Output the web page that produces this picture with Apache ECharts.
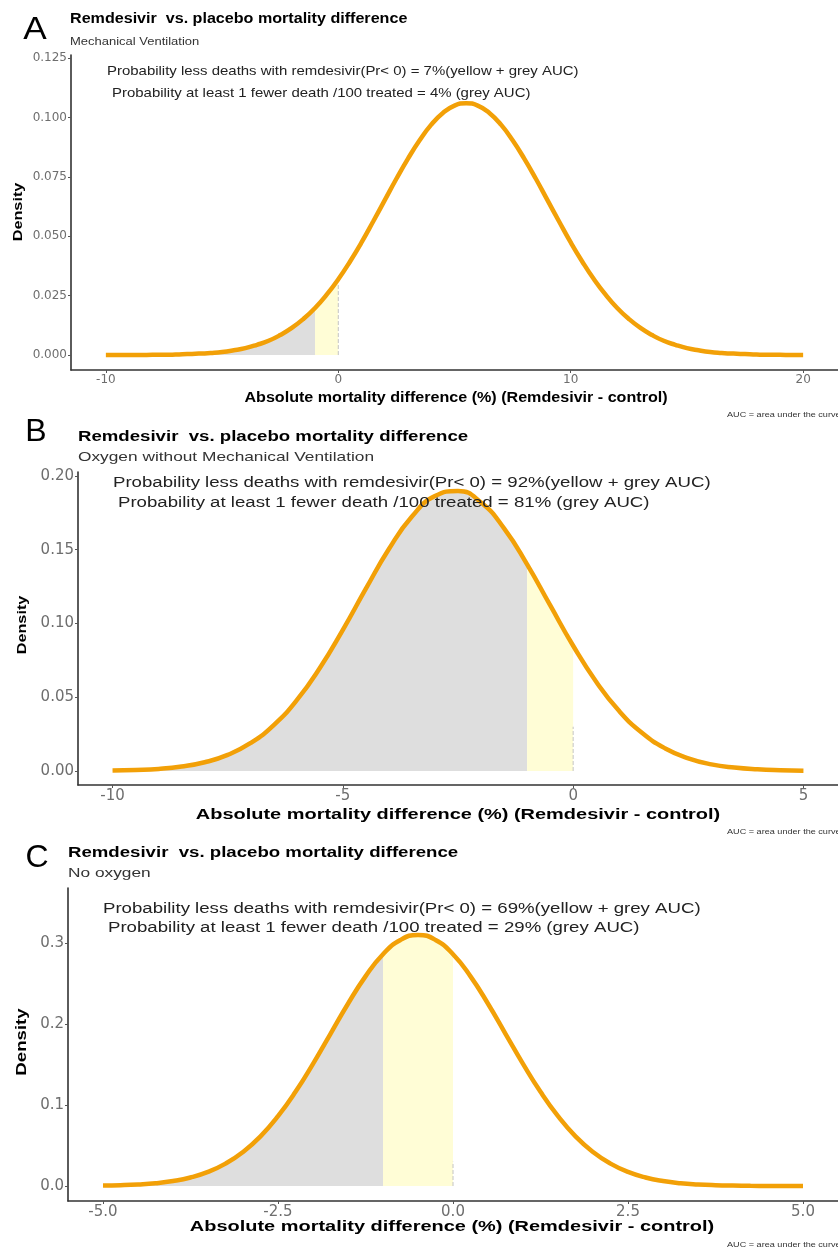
<!DOCTYPE html>
<html>
<head>
<meta charset="UTF-8">
<title>Remdesivir vs. placebo mortality difference</title>
<script src="https://cdn.jsdelivr.net/npm/echarts@6/dist/echarts.min.js"></script>
<style>
body { margin: 0; padding: 0; background: #fff; }
#main { width: 838px; height: 1252px; }
</style>
</head>
<body>
<div id="main"></div>
<script>
// A - mechanical ventilation
var xA = [-10,-9.5,-9,-8.5,-8,-7.5,-7,-6.5,-6,-5.5,-5,-4.5,-4,-3.5,-3,-2.5,-2,-1.5,-1,-0.5,
	0,0.5,1,1.5,2,2.5,3,3.5,4,4.5,5,5.5,6,6.5,7,7.5,8,8.5,9,9.5,
	10,10.5,11,11.5,12,12.5,13,13.5,14,14.5,15,15.5,16,16.5,17,17.5,18,18.5,19,19.5,20];
var densA = [0.0000,0.0000,0.0000,0.0000,0.0001,0.0001,0.0002,0.0004,0.0006,0.0009,0.0013,0.0020,0.0029,0.0043,0.0060,0.0084,0.0114,0.0152,0.0198,0.0254,
	0.0319,0.0393,0.0474,0.0562,0.0652,0.0742,0.0827,0.0904,0.0970,0.1019,0.1050,0.1060,0.1050,0.1019,0.0970,0.0904,0.0827,0.0742,0.0652,0.0562,
	0.0474,0.0393,0.0319,0.0254,0.0198,0.0152,0.0114,0.0084,0.0060,0.0043,0.0029,0.0020,0.0013,0.0009,0.0006,0.0004,0.0002,0.0001,0.0001,0.0000,0.0000];
var xTicksA = [-10, 0, 10, 20];
var yTicksA = [0, 0.025, 0.05, 0.075, 0.1, 0.125];

// B - oxygen without mechanical ventilation
var xB = [-10,-9.5,-9,-8.5,-8,-7.5,-7,-6.5,-6,-5.5,-5,-4.5,-4,-3.5,-3,-2.5,-2,-1.5,-1,-0.5,0,0.5,1,1.5,2,2.5,3,3.5,4,4.5,5];
var densB = [0.0003,0.0007,0.0014,0.0030,0.0059,0.0109,0.0190,0.0311,0.0480,0.0698,0.0957,0.1236,0.1505,0.1725,0.1864,0.1898,0.1820,0.1645,0.1401,0.1124,0.0849,0.0605,0.0406,0.0257,0.0153,0.0086,0.0045,0.0023,0.0011,0.0005,0.0002];
var xTicksB = [-10, -5, 0, 5];
var yTicksB = [0, 0.05, 0.1, 0.15, 0.2];

// C - no oxygen
var xC = [-5,-4.75,-4.5,-4.25,-4,-3.75,-3.5,-3.25,-3,-2.75,-2.5,-2.25,-2,-1.75,-1.5,-1.25,-1,-0.75,-0.5,-0.25,
	0,0.25,0.5,0.75,1,1.25,1.5,1.75,2,2.25,2.5,2.75,3,3.25,3.5,3.75,4,4.25,4.5,4.75,5];
var densC = [0.0005,0.0010,0.0019,0.0034,0.0061,0.0105,0.0174,0.0276,0.0420,0.0613,0.0862,0.1163,0.1509,0.1880,0.2251,0.2589,0.2862,0.3039,0.3100,0.3039,
	0.2862,0.2589,0.2251,0.1880,0.1509,0.1163,0.0862,0.0613,0.0420,0.0276,0.0174,0.0105,0.0061,0.0034,0.0019,0.0010,0.0005,0.0002,0.0001,0.0000,0.0000];
var xTicksC = [-5, -2.5, 0, 2.5, 5];
var yTicksC = [0, 0.1, 0.2, 0.3];

var cut1 = -1;     // at least 1 fewer death / 100
var cut0 = 0;      // any benefit
var segTop = 0.03; // dashed marker at 0

var ORANGE = '#F2A007';
var FONT = 'Liberation Sans, Arial, sans-serif';

function pairs(xs, ys, lo, hi) {
	var out = [];
	for (var i = 0; i < xs.length; i++) {
		if (xs[i] >= lo && xs[i] <= hi) out.push([xs[i], ys[i]]);
	}
	return out;
}

function panelSeries(idx, xs, ys) {
	return [
		{ type: 'line', xAxisIndex: idx, yAxisIndex: idx, smooth: true, symbol: 'none',
		  data: pairs(xs, ys, -999, cut1), lineStyle: { width: 0 },
		  areaStyle: { color: '#DEDEDE', opacity: 1 }, z: 1, silent: true },
		{ type: 'line', xAxisIndex: idx, yAxisIndex: idx, smooth: true, symbol: 'none',
		  data: pairs(xs, ys, cut1, cut0), lineStyle: { width: 0 },
		  areaStyle: { color: '#FFFDD6', opacity: 1 }, z: 1, silent: true },
		{ type: 'line', xAxisIndex: idx, yAxisIndex: idx, symbol: 'none',
		  data: [[cut0, 0], [cut0, segTop]],
		  lineStyle: { color: '#C4C4C4', width: 1, type: 'dashed' }, z: 2 },
		{ type: 'line', xAxisIndex: idx, yAxisIndex: idx, smooth: true, symbol: 'none',
		  data: pairs(xs, ys, -999, 999),
		  lineStyle: { color: ORANGE, width: 4.5 }, z: 3 }
	];
}

function xAx(idx, min, max, ticks, dec, size) {
	return { type: 'value', gridIndex: idx, min: min, max: max,
		splitLine: { show: false },
		axisLine: { onZero: false, lineStyle: { color: '#333', width: 1.6 } },
		axisTick: { length: 3, lineStyle: { color: '#555' }, customValues: ticks },
		axisLabel: { customValues: ticks, color: '#6e6e6e', fontSize: size, margin: 4,
			fontFamily: 'DejaVu Sans, sans-serif',
			formatter: function (v) { return dec ? v.toFixed(dec) : String(v); } } };
}

function yAx(idx, min, max, ticks, dec, size) {
	return { type: 'value', gridIndex: idx, min: min, max: max,
		splitLine: { show: false },
		axisLine: { show: true, onZero: false, lineStyle: { color: '#333', width: 1.6 } },
		axisTick: { show: true, length: 3, lineStyle: { color: '#555' }, customValues: ticks },
		axisLabel: { customValues: ticks, color: '#6e6e6e', fontSize: size, margin: 4,
			fontFamily: 'DejaVu Sans, sans-serif',
			formatter: function (v) { return v.toFixed(dec); } } };
}

function txt(x, y, s, size, weight, sx, align, color, rot) {
	return { type: 'text', x: x, y: y, scaleX: sx || 1, rotation: rot || 0, z: 100,
		style: { text: s, fontSize: size, fontWeight: weight || 'normal', fontFamily: FONT,
			fill: color || '#000', align: align || 'left', textAlign: align || 'left',
			verticalAlign: 'middle', textVerticalAlign: 'middle' } };
}

var title = 'Remdesivir  vs. placebo mortality difference';
var xName = 'Absolute mortality difference (%) (Remdesivir - control)';
var auc = 'AUC = area under the curve';

var texts = [
	// A
	txt(35, 30, 'A', 32, 'normal', 1.1, 'center'),
	txt(70, 19, title, 14, 'bold', 1.15),
	txt(70, 42, 'Mechanical Ventilation', 11.3, 'normal', 1.15, 'left', '#333'),
	txt(107, 71, 'Probability less deaths with remdesivir(Pr< 0) = 7%(yellow + grey AUC)', 13, 'normal', 1.15, 'left', '#222'),
	txt(112, 93, 'Probability at least 1 fewer death /100 treated = 4% (grey AUC)', 13, 'normal', 1.15, 'left', '#222'),
	txt(18, 212, 'Density', 13, 'bold', 1.25, 'center', '#000', Math.PI / 2),
	txt(456, 398, xName, 14, 'bold', 1.15, 'center'),
	txt(727, 415, auc, 7, 'normal', 1.3, 'left', '#333'),
	// B
	txt(36, 432, 'B', 32, 'normal', 1, 'center'),
	txt(78, 437, title, 14, 'bold', 1.33),
	txt(78, 457, 'Oxygen without Mechanical Ventilation', 13, 'normal', 1.33, 'left', '#333'),
	txt(113, 483, 'Probability less deaths with remdesivir(Pr< 0) = 92%(yellow + grey AUC)', 14, 'normal', 1.33, 'left', '#222'),
	txt(118, 503, 'Probability at least 1 fewer death /100 treated = 81% (grey AUC)', 14, 'normal', 1.33, 'left', '#222'),
	txt(22, 625, 'Density', 13, 'bold', 1.25, 'center', '#000', Math.PI / 2),
	txt(458, 815, xName, 15, 'bold', 1.33, 'center'),
	txt(727, 832, auc, 7, 'normal', 1.3, 'left', '#333'),
	// C
	txt(37, 858, 'C', 32, 'normal', 1, 'center'),
	txt(68, 853, title, 14, 'bold', 1.33),
	txt(68, 873, 'No oxygen', 13, 'normal', 1.33, 'left', '#333'),
	txt(103, 909, 'Probability less deaths with remdesivir(Pr< 0) = 69%(yellow + grey AUC)', 14, 'normal', 1.33, 'left', '#222'),
	txt(108, 928, 'Probability at least 1 fewer death /100 treated = 29% (grey AUC)', 14, 'normal', 1.33, 'left', '#222'),
	txt(22, 1042, 'Density', 14, 'bold', 1.33, 'center', '#000', Math.PI / 2),
	txt(452, 1227, xName, 15, 'bold', 1.33, 'center'),
	txt(727, 1245, auc, 7, 'normal', 1.3, 'left', '#333')
];

var chart = echarts.init(document.getElementById('main'));
var option = {
	animation: false,
	backgroundColor: '#fff',
	grid: [
		{ left: 71, top: 55, width: 769, height: 315 },
		{ left: 78, top: 472, width: 762, height: 313 },
		{ left: 68, top: 888, width: 772, height: 313 }
	],
	xAxis: [
		xAx(0, -11.5, 21.5, xTicksA, 0, 12),
		xAx(1, -10.75, 5.75, xTicksB, 0, 15),
		xAx(2, -5.5, 5.5, xTicksC, 1, 15)
	],
	yAxis: [
		yAx(0, -0.0063, 0.1263, yTicksA, 3, 12),
		yAx(1, -0.0095, 0.2027, yTicksB, 2, 15),
		yAx(2, -0.0185, 0.368, yTicksC, 1, 15)
	],
	series: [].concat(panelSeries(0, xA, densA), panelSeries(1, xB, densB), panelSeries(2, xC, densC)),
	graphic: texts
};
chart.setOption(option);
</script>
</body>
</html>
